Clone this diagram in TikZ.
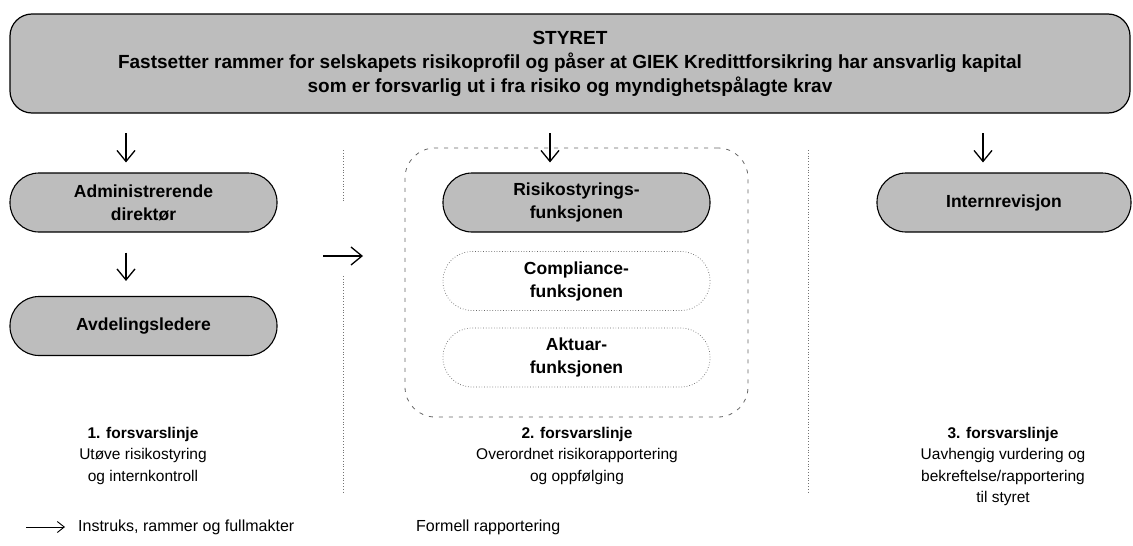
\documentclass[tikz,border=0pt]{standalone}
\usepackage{fontspec}
\setmainfont{Liberation Sans}
\usetikzlibrary{arrows.meta}
\begin{document}
\begin{tikzpicture}[x=1pt,y=-1pt,
 stip/.style={fill=black!26},
 pill/.style={draw=black, line width=1.1pt, stip, rounded corners=29pt, minimum width=267pt, minimum height=59pt, align=center, font=\fontsize{17.5}{23}\selectfont\bfseries, inner sep=0pt},
 ghost/.style={pill, fill=white, draw=black!60, line width=0.7pt, dotted},
 arr/.style={-{Straight Barb[length=11pt,width=18pt]}, line width=1.3pt},
 caption/.style={align=center, font=\fontsize{15.5}{21.5}\selectfont, anchor=north, inner sep=0pt},
 sep/.style={black!55, line width=0.8pt, dotted},
 legend/.style={anchor=west, font=\fontsize{16}{19}\selectfont, inner sep=0pt}]
\useasboundingbox (0,0) rectangle (1133,546);

% top box
\node[draw=black, line width=1.2pt, stip, rounded corners=22pt, minimum width=1120pt, minimum height=99pt, align=center, inner sep=0pt,
      font=\fontsize{19}{24}\selectfont\bfseries] (styret) at (570,63.5)
  {STYRET\\Fastsetter rammer for selskapets risikoprofil og påser at GIEK Kredittforsikring har ansvarlig kapital\\som er forsvarlig ut i fra risiko og myndighetspålagte krav};

% column 1
\node[pill] (adm) at (143.5,202.5) {Administrerende\\direktør};
\node[pill] (avd) at (143.5,326) {Avdelingsledere};

% column 2 container
\node[draw=black!60, line width=0.8pt, dash pattern=on 4pt off 6pt, rounded corners=30pt, minimum width=343pt, minimum height=269pt, inner sep=0pt] (cont) at (576.5,282.5) {};
\node[pill] (risk) at (576.5,202.5) {Risikostyrings-\\funksjonen};
\node[ghost] (comp) at (576.5,281) {Compliance-\\funksjonen};
\node[ghost] (akt) at (576.5,357.5) {Aktuar-\\funksjonen};

% column 3
\node[pill, minimum width=254pt] (intr) at (1004,202.5) {Internrevisjon};

% arrow anchors
\coordinate (c1) at (126,0);
\coordinate (c2) at (550,0);
\coordinate (c3) at (983,0);
\coordinate (h1) at (277,256);
\coordinate (h2) at (405,256);

\draw[arr, shorten <=19.5pt, shorten >=10pt] (styret.south -| c1) -- (adm.north -| c1);
\draw[arr, shorten <=20pt, shorten >=15pt] (adm.south -| c1) -- (avd.north -| c1);
\draw[arr, shorten <=19.5pt, shorten >=10pt] (styret.south -| c2) -- (risk.north -| c2);
\draw[arr, shorten <=19.5pt, shorten >=10pt] (styret.south -| c3) -- (intr.north -| c3);
\draw[arr, shorten <=46pt, shorten >=42pt] (h1) -- (h2);

% separators
\draw[sep] (343,150) -- (343,203);
\draw[sep] (343,276) -- (343,493);
\draw[sep] (808,150) -- (808,492);

% captions
\node[caption] (l1) at (143,427) {\textbf{1. forsvarslinje}\\Utøve risikostyring\\og internkontroll};
\node[caption] (l2) at (577,427) {\textbf{2. forsvarslinje}\\Overordnet risikorapportering\\og oppfølging};
\node[caption] (l3) at (1003,427) {\textbf{3. forsvarslinje}\\Uavhengig vurdering og\\bekreftelse/rapportering\\til styret};

% legend
\coordinate (la) at (26,527);
\node[legend] (lt1) at (78,527) {Instruks, rammer og fullmakter};
\node[legend] (lt2) at (416,527) {Formell rapportering};
\draw[-{Straight Barb[length=7pt,width=11pt]}, line width=0.9pt, shorten >=13pt] (la) -- (lt1.west);
\end{tikzpicture}
\end{document}
